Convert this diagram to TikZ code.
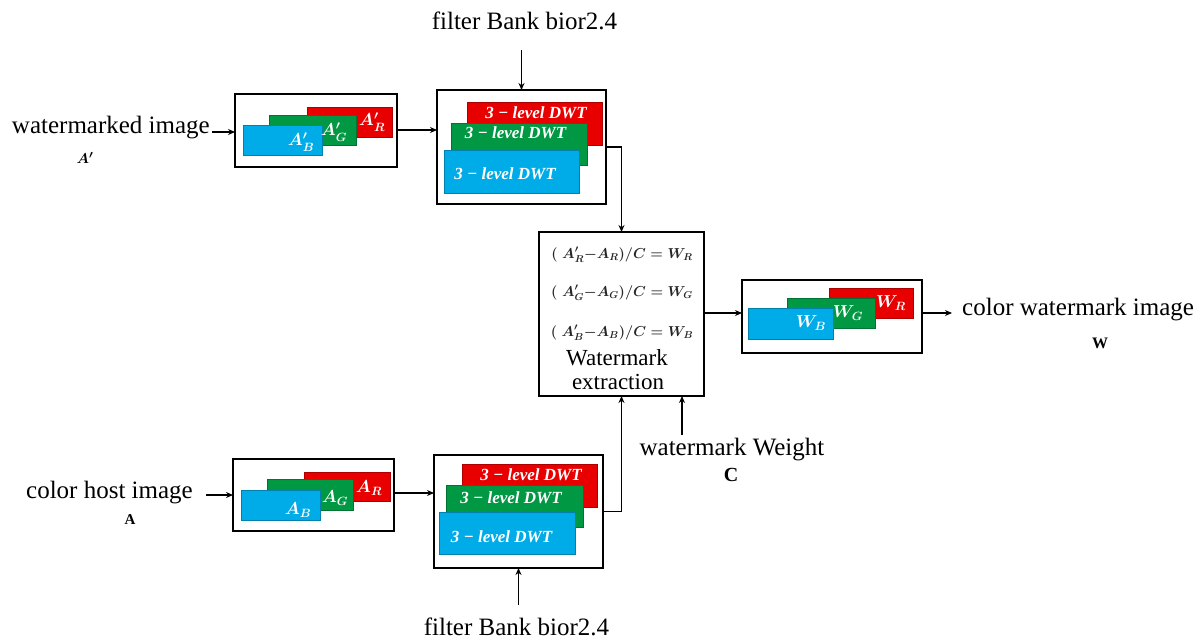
\documentclass[tikz,border=0pt]{standalone}
\usepackage{fontspec}
\setmainfont{Liberation Serif}
\usetikzlibrary{arrows.meta}
\definecolor{cR}{RGB}{232,0,0}
\definecolor{cG}{RGB}{0,152,66}
\definecolor{cB}{RGB}{0,172,232}
\tikzset{
 box/.style={draw=black, line width=1.7pt, inner sep=0pt, outer sep=0pt, fill=white},
 ch/.style={inner sep=0pt, outer sep=0pt, draw=#1!75!black, line width=0.6pt, fill=#1},
 lbl/.style={font=\fontsize{25}{27}\selectfont, inner sep=0pt},
 arr/.style={line width=1.4pt, -{Stealth[length=7pt,width=6pt]}},
 dwt/.style={text=white, font=\fontsize{17}{19}\selectfont\bfseries\itshape, inner sep=0pt},
 ml/.style={text=white, font=\fontsize{17}{19}\selectfont\boldmath, inner sep=0pt},
 eq/.style={font=\fontsize{14}{16}\selectfont\boldmath, inner sep=0pt, text=black!85},
 small/.style={font=\fontsize{15}{17}\selectfont, inner sep=0pt},
 cetext/.style={font=\fontsize{23}{25}\selectfont, inner sep=0pt, anchor=base},
}
\begin{document}
\begin{tikzpicture}[x=1pt,y=-1pt]
\useasboundingbox (0,0) rectangle (1202,642);

% ---------- Box 1: watermarked image channels
\node[box, minimum width=162pt, minimum height=73pt] (b1) at (316,130.5) {};
\node[ch=cR, minimum width=85pt, minimum height=30pt] (b1r) at (349.5,122) {};
\node[ch=cG, minimum width=87pt, minimum height=30pt] (b1g) at (312.5,130) {};
\node[ch=cB, minimum width=79pt, minimum height=30pt] (b1b) at (282.5,140) {};
\node[ml] (b1rl) at (372,122) {$A'_R$};
\node[ml] (b1gl) at (334,132) {$A'_G$};
\node[ml] (b1bl) at (301,142) {$A'_B$};

% ---------- Box 2: DWT (top)
\node[box, minimum width=169pt, minimum height=114pt] (b2) at (521.5,147) {};
\node[ch=cR, minimum width=135pt, minimum height=43pt] (b2r) at (534.5,123.5) {};
\node[ch=cG, minimum width=136pt, minimum height=42pt] (b2g) at (519,144) {};
\node[ch=cB, minimum width=135pt, minimum height=43pt] (b2b) at (511.5,171.5) {};
\node[dwt] (b2rl) at (536,113) {3 − level DWT};
\node[dwt] (b2gl) at (515.5,133) {3 − level DWT};
\node[dwt] (b2bl) at (505,174) {3 − level DWT};

% ---------- Central box
\node[box, minimum width=165pt, minimum height=164pt] (ce) at (621.5,314) {};
\node[eq] (e1) at (622,255) {$(\;A'_R{-}A_R)/C=W_R$};
\node[eq] (e2) at (622,293) {$(\;A'_G{-}A_G)/C=W_G$};
\node[eq] (e3) at (622,333) {$(\;A'_B{-}A_B)/C=W_B$};
\node[cetext] (ce1) at (617,365) {Watermark};
\node[cetext] (ce2) at (618,389) {extraction};

% ---------- Box 3: watermark channels
\node[box, minimum width=180pt, minimum height=73pt] (b3) at (832,316.5) {};
\node[ch=cR, minimum width=84pt, minimum height=30pt] (b3r) at (871,303) {};
\node[ch=cG, minimum width=88pt, minimum height=30pt] (b3g) at (831,313) {};
\node[ch=cB, minimum width=85pt, minimum height=31pt] (b3b) at (790.5,323.5) {};
\node[ml] (b3rl) at (891,303) {$W_R$};
\node[ml] (b3gl) at (848,313) {$W_G$};
\node[ml] (b3bl) at (811,323) {$W_B$};

% ---------- Box 4: host image channels
\node[box, minimum width=161pt, minimum height=72pt] (b4) at (313.5,495) {};
\node[ch=cR, minimum width=86pt, minimum height=29pt] (b4r) at (347,486.5) {};
\node[ch=cG, minimum width=86pt, minimum height=31pt] (b4g) at (310,494.5) {};
\node[ch=cB, minimum width=79pt, minimum height=30pt] (b4b) at (280.5,505) {};
\node[ml] (b4rl) at (369,488) {$A_R$};
\node[ml] (b4gl) at (335,498) {$A_G$};
\node[ml] (b4bl) at (298,510) {$A_B$};

% ---------- Box 5: DWT (bottom)
\node[box, minimum width=169pt, minimum height=113pt] (b5) at (518.5,511.5) {};
\node[ch=cR, minimum width=135pt, minimum height=43pt] (b5r) at (529.5,485.5) {};
\node[ch=cG, minimum width=137pt, minimum height=42pt] (b5g) at (514.5,506) {};
\node[ch=cB, minimum width=136pt, minimum height=42pt] (b5b) at (507,533) {};
\node[dwt] (b5rl) at (531,475) {3 − level DWT};
\node[dwt] (b5gl) at (511,498) {3 − level DWT};
\node[dwt] (b5bl) at (501.5,537) {3 − level DWT};

% ---------- Texts
\node[lbl, anchor=base east] (wm) at (210,133) {watermarked image};
\node[small, font=\fontsize{15}{17}\selectfont\boldmath] (wmA) at (85,158) {$A'$};
\node[lbl, anchor=base east] (host) at (193,498) {color host image};
\node[small, font=\fontsize{15}{17}\selectfont\bfseries] (hostA) at (130,520) {A};
\node[lbl, anchor=base] (ft) at (524.5,30) {filter Bank bior2.4};
\node[lbl, anchor=base] (fb) at (516.5,635) {filter Bank bior2.4};
\node[lbl, anchor=base west] (out) at (962,315) {color watermark image};
\node[small, font=\fontsize{16}{18}\selectfont\bfseries] (outW) at (1100,343) {W};
\node[lbl, anchor=base] (wt) at (732,455) {watermark Weight};
\node[small, font=\fontsize{20}{22}\selectfont\bfseries] (wtC) at (731,475) {C};

% ---------- Connector end points
\coordinate (ftp) at (521.5,50);
\coordinate (fbp) at (518.5,605);
\coordinate (wtp) at (682,435);
\coordinate (outp) at (952,316.5);
\coordinate (wmp) at (212,132);
\coordinate (hostp) at (206,495);

% ---------- Connectors
\draw[arr] (wmp) -- (wmp -| b1.west);
\draw[arr] (b1.east |- 0,130) -- (b2.west |- 0,130);
\draw[arr] (ftp) -- (b2.north);
\draw[arr] (b2.east) -| (ce.north);
\draw[arr] (hostp) -- (b4.west);
\draw[arr] (b4.east |- 0,493) -- (b5.west |- 0,493);
\draw[arr] (fbp) -- (b5.south);
\draw[arr] (b5.east) -| (ce.south);
\draw[arr] (wtp) -- (wtp |- ce.south);
\draw[arr] (ce.east |- 0,313) -- (b3.west |- 0,313);
\draw[arr] (b3.east |- 0,313) -- (outp |- 0,313);
\end{tikzpicture}
\end{document}
